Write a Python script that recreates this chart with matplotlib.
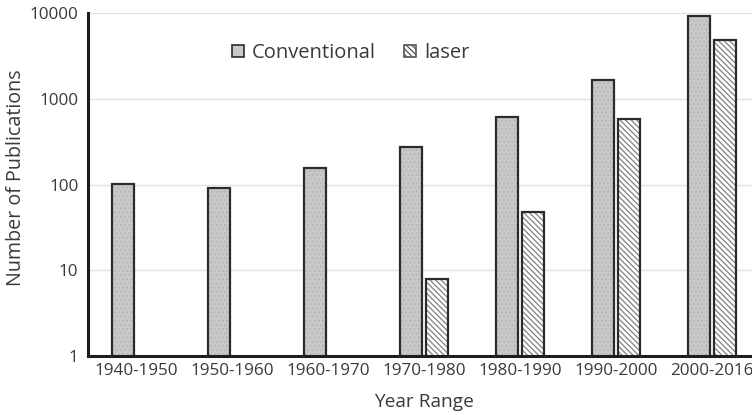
import numpy as np
import matplotlib.pyplot as plt
from matplotlib.patches import Patch
from matplotlib.ticker import FixedLocator, FixedFormatter, NullLocator

plt.rcParams["font.family"] = ["Open Sans", "DejaVu Sans"]
plt.rcParams["hatch.linewidth"] = 0.9

ranges = ["1940-1950", "1950-1960", "1960-1970", "1970-1980",
          "1980-1990", "1990-2000", "2000-2016"]
conventional = [102, 91, 156, 275, 610, 1650, 9300]
laser = [np.nan, np.nan, np.nan, 8, 48, 580, 4900]

y_ticks = [1, 10, 100, 1000, 10000]
y_tick_labels = ["1", "10", "100", "1000", "10000"]

text_col = "#3a3a3a"
edge_col = "#2b2b2b"
conv_face = "#c8c8c8"
stripe = "\\" * 6
width = 0.23
offset = 0.135

fig = plt.figure(figsize=(7.52, 4.15), dpi=100)
ax = fig.add_axes([0.117, 0.142, 0.894, 0.8265])

x = np.arange(len(ranges))

# conventional: grey fill with a faint dotted texture, then the outline
ax.bar(x - offset, conventional, width, color=conv_face, hatch="....",
       edgecolor="#b6b6b6", linewidth=0, zorder=3)
ax.bar(x - offset, conventional, width, fill=False, edgecolor=edge_col,
       linewidth=1.6, zorder=4)

# laser: white with thin diagonal stripes
ax.bar(x + offset, laser, width, color="white", hatch=stripe,
       edgecolor="#808080", linewidth=0, zorder=3)
ax.bar(x + offset, laser, width, fill=False, edgecolor=edge_col,
       linewidth=1.6, zorder=4)

ax.set_yscale("log")
ax.set_ylim(1, 10000)
ax.set_xlim(-0.5, len(ranges) - 0.5)
ax.yaxis.set_major_locator(FixedLocator(y_ticks))
ax.yaxis.set_major_formatter(FixedFormatter(y_tick_labels))
ax.yaxis.set_minor_locator(NullLocator())
ax.set_xticks(x)
ax.set_xticklabels(ranges)
ax.tick_params(axis="both", length=0, labelsize=12.3, labelcolor=text_col)
ax.tick_params(axis="x", pad=5)
ax.tick_params(axis="y", pad=7)

ax.grid(axis="y", color="#e2e2e2", linewidth=1, zorder=0)
ax.set_axisbelow(True)
for side in ["top", "right"]:
    ax.spines[side].set_visible(False)
for side in ["left", "bottom"]:
    ax.spines[side].set_linewidth(2.2)
    ax.spines[side].set_color("#1e1e1e")
    ax.spines[side].set_zorder(5)

ax.set_xlabel("Year Range", fontsize=13.8, color=text_col, labelpad=10)
ax.set_ylabel("Number of Publications", fontsize=14.2, color=text_col)
ax.yaxis.set_label_coords(-0.092, 0.52)

handles = [
    Patch(facecolor=conv_face, edgecolor=edge_col, linewidth=1.2, label="Conventional"),
    Patch(facecolor="white", edgecolor="#555555", hatch=stripe, linewidth=1.2, label="laser"),
]
fig.legend(handles=handles, loc="center left", bbox_to_anchor=(0.3085, 0.872),
           ncol=2, frameon=False, fontsize=14.5, handlelength=0.6, handleheight=0.6,
           handletextpad=0.4, columnspacing=1.4, borderpad=0, borderaxespad=0,
           labelcolor=text_col)

fig.savefig("out.png", dpi=100)
